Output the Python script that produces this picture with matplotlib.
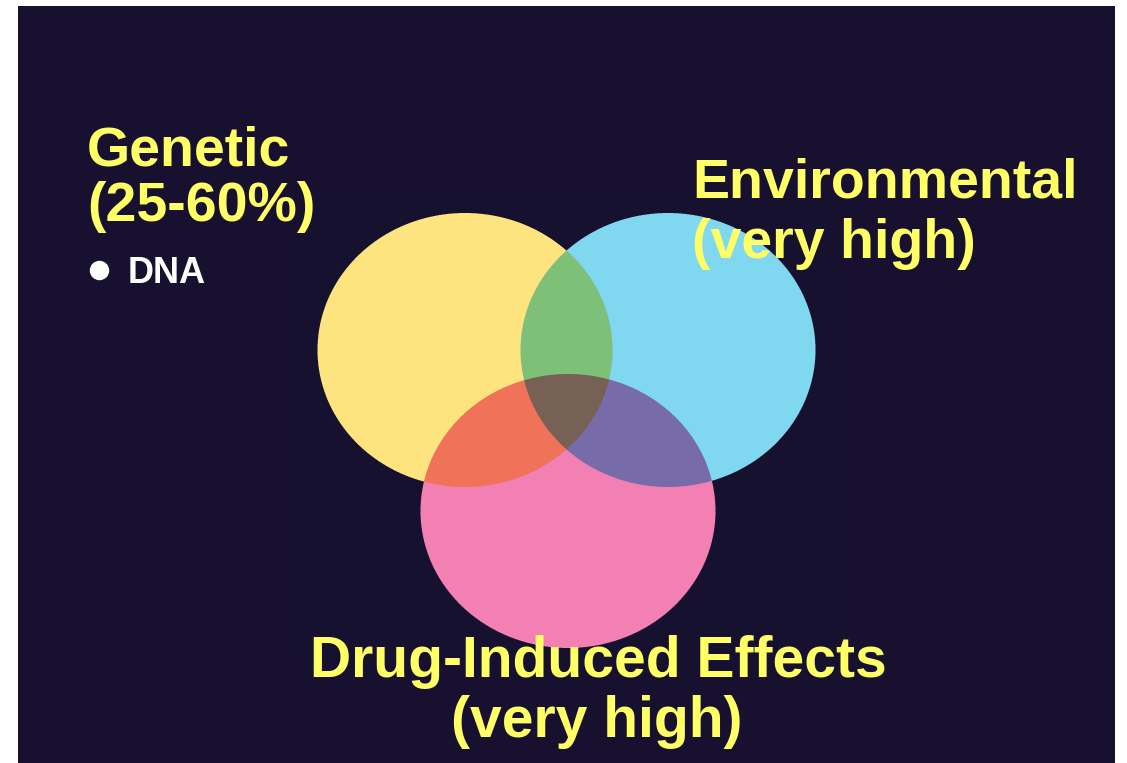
import numpy as np
import matplotlib
matplotlib.use("Agg")
import matplotlib.pyplot as plt
from matplotlib.patches import Rectangle

# Three overlapping sets
set_names = ["Genetic", "Environmental", "Drug-Induced Effects"]
set_notes = ["(25-60%)", "(very high)", "(very high)"]
set_colors = ["#fde47f", "#7fd7f0", "#f280b4"]
genetic_items = ["DNA"]

W, H = 1127, 763
BG = "#17112f"
TEXT_YELLOW = "#ffff66"

# Ellipse geometry in canvas units (centre x, centre y), common half-axes
centers = [(465.0, 350.0), (668.0, 350.0), (568.0, 511.0)]
half_w, half_h = 147.5, 137.0

fig = plt.figure(figsize=(W / 100, H / 100), dpi=100, facecolor="white")
ax = fig.add_axes([0, 0, 1, 1])
ax.set_xlim(0, W)
ax.set_ylim(H, 0)
ax.axis("off")

ax.add_patch(Rectangle((18, 6), 1097, H - 6, facecolor=BG, edgecolor="none", zorder=0))

# Render the diagram as multiply-blended overlapping ellipses (supersampled)
x0, x1 = 300, 840
y0, y1 = 200, 665
ss = 4
nx, ny = (x1 - x0), (y1 - y0)
xs = x0 + (np.arange(nx * ss) + 0.5) / ss
ys = y0 + (np.arange(ny * ss) + 0.5) / ss
X, Y = np.meshgrid(xs, ys)

bg_rgb = np.array(matplotlib.colors.to_rgb(BG))
prod = np.ones(X.shape + (3,))
any_in = np.zeros(X.shape, dtype=bool)
for (cx, cy), col in zip(centers, set_colors):
    inside = ((X - cx) / half_w) ** 2 + ((Y - cy) / half_h) ** 2 <= 1.0
    rgb = np.array(matplotlib.colors.to_rgb(col))
    prod[inside] *= rgb
    any_in |= inside
prod[~any_in] = bg_rgb
img = prod.reshape(ny, ss, nx, ss, 3).mean(axis=(1, 3))

ax.imshow(img, extent=(x0, x1, y1, y0), origin="upper",
          interpolation="none", zorder=1)
ax.set_xlim(0, W)
ax.set_ylim(H, 0)

font = ["Liberation Sans", "DejaVu Sans"]

# Genetic label
ax.text(87, 165, set_names[0], color=TEXT_YELLOW, fontsize=40, fontweight="bold",
        family=font, ha="left", va="baseline", zorder=3)
ax.text(87, 221, set_notes[0], color=TEXT_YELLOW, fontsize=40, fontweight="bold",
        family=font, ha="left", va="baseline", zorder=3)
ax.plot([99], [270], marker="o", markersize=14, color="white",
        markeredgewidth=0, zorder=3)
ax.text(128, 283, genetic_items[0], color="white", fontsize=26, fontweight="bold",
        family=font, ha="left", va="baseline", zorder=3)

# Environmental label
ax.text(692, 197, set_names[1], color=TEXT_YELLOW, fontsize=40, fontweight="bold",
        family=font, ha="left", va="baseline", zorder=3)
ax.text(692, 258, set_notes[1], color=TEXT_YELLOW, fontsize=40, fontweight="bold",
        family=font, ha="left", va="baseline", zorder=3)

# Drug-induced label
ax.text(598, 677, set_names[2], color=TEXT_YELLOW, fontsize=41, fontweight="bold",
        family=font, ha="center", va="baseline", zorder=3)
ax.text(597, 737, set_notes[2], color=TEXT_YELLOW, fontsize=41, fontweight="bold",
        family=font, ha="center", va="baseline", zorder=3)

fig.savefig("out.png", dpi=100, facecolor="white")
